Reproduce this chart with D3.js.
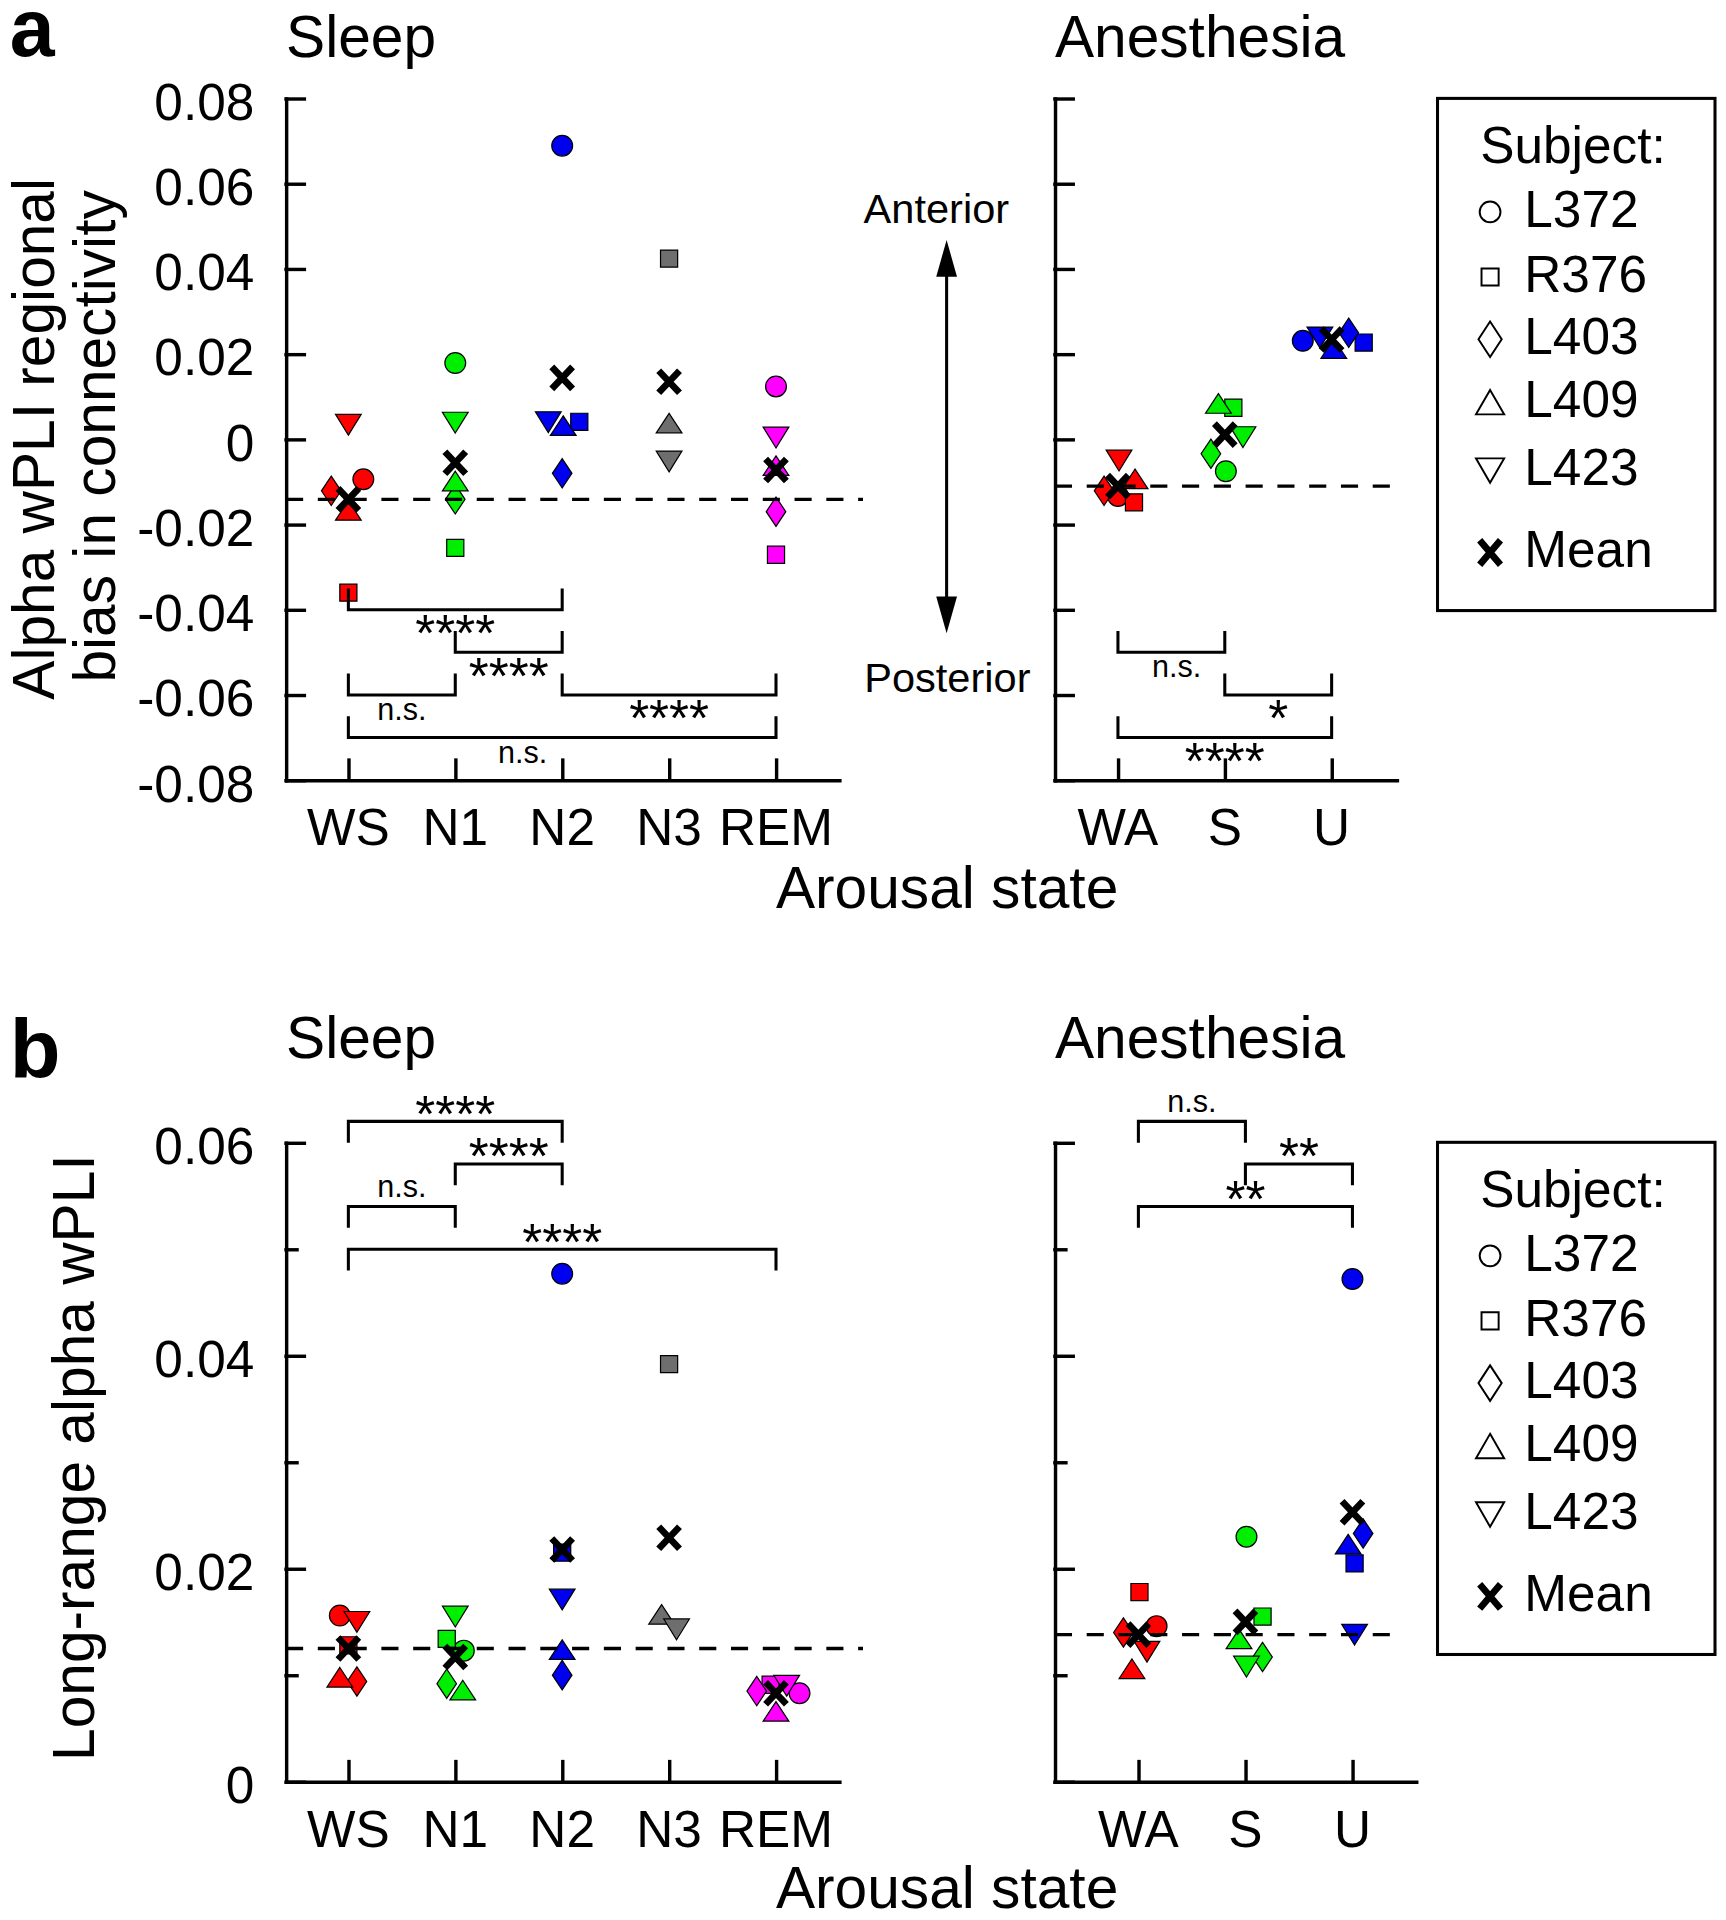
<!DOCTYPE html>
<html>
<head>
<meta charset="utf-8">
<script src="https://cdn.jsdelivr.net/npm/d3@7"></script>
<style>
  body { margin: 0; background: #fff; }
  text { font-family: 'Liberation Sans', Arial, Helvetica, sans-serif; fill: #000; }
</style>
</head>
<body>
<svg id="chart"></svg>
<script>
// ---- data ----
const subjects = ['L372', 'R376', 'L403', 'L409', 'L423']
const subjectShapes = ['circle', 'square', 'diamond', 'triangleUp', 'triangleDown']

const sleepStages = ['WS', 'N1', 'N2', 'N3', 'REM']
const anesthesiaStages = ['WA', 'S', 'U']
const sleepColors = ['#ff0000', '#00ee00', '#0000f0', '#6e6e6e', '#ff00ff']
const anesthesiaColors = ['#ff0000', '#00ee00', '#0000f0']

const biasTicks = [0.08, 0.06, 0.04, 0.02, 0, -0.02, -0.04, -0.06, -0.08]
const biasTickLabels = ['0.08', '0.06', '0.04', '0.02', '0', '-0.02', '-0.04', '-0.06', '-0.08']
const wpliMajorTicks = [0.06, 0.04, 0.02, 0]
const wpliMinorTicks = [0.05, 0.03, 0.01]
const wpliTickLabels = ['0.06', '0.04', '0.02', '0']

// panel a: alpha wPLI regional bias, one row per subject, one column per stage
const biasSleep = [
  [-0.0094, 0.0179, 0.0689, null, 0.0124],
  [-0.0360, -0.0255, 0.0041, 0.0424, -0.0271],
  [-0.0121, -0.0141, -0.0080, null, -0.0170],
  [-0.0167, -0.0098, 0.0032, 0.0038, -0.0062],
  [0.0034, 0.0039, 0.0040, -0.0052, 0.0004]
]
const biasSleepMean = [-0.0141, -0.0055, 0.0144, 0.0135, -0.0072]
const biasAnesthesia = [
  [-0.0133, -0.0075, 0.0231],
  [-0.0148, 0.0074, 0.0227],
  [-0.0121, -0.0034, 0.0250],
  [-0.0093, 0.0084, 0.0213],
  [-0.0050, 0.0005, 0.0239]
]
const biasAnesthesiaMean = [-0.0110, 0.0011, 0.0234]

// panel b: long-range alpha wPLI
const wpliSleep = [
  [0.0156, 0.0123, 0.0477, null, 0.0083],
  [0.0128, 0.0134, 0.0215, 0.0392, 0.0091],
  [0.0094, 0.0092, 0.0100, null, 0.0085],
  [0.0098, 0.0086, 0.0124, 0.0157, 0.0066],
  [0.0150, 0.0155, 0.0171, 0.0143, 0.0090]
]
const wpliSleepMean = [0.0125, 0.0117, 0.0218, 0.0229, 0.0083]
const wpliAnesthesia = [
  [0.0146, 0.0230, 0.0472],
  [0.0178, 0.0155, 0.0205],
  [0.0140, 0.0117, 0.0233],
  [0.0106, 0.0134, 0.0223],
  [0.0122, 0.0108, 0.0138]
]
const wpliAnesthesiaMean = [0.0138, 0.0150, 0.0253]

// horizontal spread of overlapping markers, in category units
const biasSleepJitter = [
  [0.14, 0, 0, 0, 0],
  [0, 0, 0.16, 0, 0],
  [-0.16, 0, 0, 0, 0],
  [0, 0, 0.01, 0, 0],
  [0, 0, -0.13, 0, 0]
]
const biasAnesthesiaJitter = [
  [0, 0.01, -0.27],
  [0.15, 0.08, 0.30],
  [-0.13, -0.13, 0.16],
  [0.16, -0.06, 0.02],
  [0.01, 0.17, -0.11]
]
const wpliSleepJitter = [
  [-0.08, 0.08, 0, 0, 0.22],
  [0, -0.08, 0, 0, -0.05],
  [0.08, -0.08, 0, 0, -0.18],
  [-0.08, 0.07, 0, -0.07, 0],
  [0.08, 0, 0, 0.07, 0.1]
]
const wpliAnesthesiaJitter = [
  [0.17, 0.01, 0],
  [0.01, 0.16, 0.02],
  [-0.14, 0.16, 0.1],
  [-0.06, -0.06, -0.04],
  [0.08, 0.01, 0.02]
]

// significance brackets: [from stage, to stage, level, label, label position]
const biasSleepBrackets = [
  [0, 2, -0.04, '****', 1.0],
  [1, 2, -0.05, '****', 1.5],
  [0, 1, -0.06, 'n.s.', 0.5],
  [2, 4, -0.06, '****', 3.0],
  [0, 4, -0.07, 'n.s.', 1.63]
]
const biasAnesthesiaBrackets = [
  [0, 1, -0.05, 'n.s.', 0.55],
  [1, 2, -0.06, '*', 1.5],
  [0, 2, -0.07, '****', 1.0]
]
const wpliSleepBrackets = [
  [0, 2, 0.062, '****', 1.0],
  [1, 2, 0.058, '****', 1.5],
  [0, 1, 0.054, 'n.s.', 0.5],
  [0, 4, 0.050, '****', 2.0]
]
const wpliAnesthesiaBrackets = [
  [0, 1, 0.062, 'n.s.', 0.5],
  [1, 2, 0.058, '**', 1.5],
  [0, 2, 0.054, '**', 1.0]
]

// ---- drawing ----
const W = 1412, H = 1920 * 1412 / 1726
const svg = d3.select('#chart')
  .attr('width', 1726)
  .attr('height', 1920)
  .attr('viewBox', `0 0 ${W} ${H}`)

const yA = d3.scaleLinear().domain([-0.08, 0.08]).range([638.2, 80.5])
const yB = d3.scaleLinear().domain([0, 0.06]).range([1457.5, 934.8])

const markerSize = { circle: [17, 17], square: [14, 14], diamond: [16, 24], triangleUp: [21, 16], triangleDown: [21, 17] }
const legendSize = { circle: [17, 17], square: [14, 14], diamond: [19, 29], triangleUp: [23, 20], triangleDown: [23, 20] }

function shapePath(shape, [w, h]) {
  const a = w / 2, b = h / 2
  switch (shape) {
    case 'circle': return `M${a},0A${a},${b} 0 1,1 ${-a},0A${a},${b} 0 1,1 ${a},0Z`
    case 'square': return `M${-a},${-b}h${w}v${h}h${-w}Z`
    case 'diamond': return `M0,${-b}L${a},0L0,${b}L${-a},0Z`
    case 'triangleUp': return `M0,${-b}L${a},${b}L${-a},${b}Z`
    case 'triangleDown': return `M0,${b}L${a},${-b}L${-a},${-b}Z`
  }
}
const crossPath = (a, b) => `M${-a},${-b}L${a},${b}M${a},${-b}L${-a},${b}`

function drawPanel(p) {
  const x = d3.scaleLinear().domain(p.xDomain).range([p.x0, p.x1])
  const y = p.y
  const yBottom = y.range()[0]
  const g = svg.append('g')

  // y axis, ticks pointing inward
  const ya = g.append('g').attr('transform', `translate(${p.x0},0)`)
    .call(d3.axisRight(y).tickValues(p.majorTicks).tickSize(15).tickSizeOuter(0).tickFormat(''))
  if (p.minorTicks) {
    ya.call(g2 => g2.append('g')
      .call(d3.axisRight(y).tickValues(p.minorTicks).tickSize(9).tickSizeOuter(0).tickFormat(''))
      .call(s => s.select('.domain').remove()))
  }
  ya.selectAll('path, line').attr('stroke-width', 2.8).attr('stroke-linecap', 'square')

  if (p.tickLabels) {
    g.selectAll('text.ytl').data(p.majorTicks).join('text')
      .attr('class', 'ytl')
      .attr('x', 208)
      .attr('y', d => y(d) + 17.5)
      .attr('text-anchor', 'end')
      .attr('font-size', 42)
      .text((d, i) => p.tickLabels[i])
  }

  // x axis, ticks pointing up
  g.append('g').attr('transform', `translate(0,${yBottom})`)
    .call(d3.axisTop(x).tickValues(d3.range(p.stages.length)).tickSize(16.4).tickSizeOuter(0).tickFormat(''))
    .selectAll('path, line').attr('stroke-width', 2.8).attr('stroke-linecap', 'square')

  g.selectAll('text.xtl').data(p.stages).join('text')
    .attr('class', 'xtl')
    .attr('x', (d, i) => x(i))
    .attr('y', yBottom + 53.1)
    .attr('text-anchor', 'middle')
    .attr('font-size', 42)
    .text(d => d)

  // subject markers
  const pts = []
  p.values.forEach((row, si) => row.forEach((v, ci) => {
    if (v != null) pts.push({ si, ci, v, j: p.jitter[si][ci] })
  }))
  g.selectAll('path.pt').data(pts).join('path')
    .attr('class', 'pt')
    .attr('d', d => shapePath(subjectShapes[d.si], markerSize[subjectShapes[d.si]]))
    .attr('transform', d => `translate(${x(d.ci + d.j)},${y(d.v)})`)
    .attr('fill', d => p.colors[d.ci])
    .attr('stroke', '#000')
    .attr('stroke-width', 1)

  // means
  g.selectAll('path.mean').data(p.means).join('path')
    .attr('class', 'mean')
    .attr('d', crossPath(8.5, 9))
    .attr('transform', (v, i) => `translate(${x(i)},${y(v)})`)
    .attr('fill', 'none')
    .attr('stroke', '#000')
    .attr('stroke-width', 5.5)

  // reference line at the first state's mean
  g.append('line')
    .attr('x1', p.x0).attr('x2', p.dashEnd)
    .attr('y1', y(p.means[0])).attr('y2', y(p.means[0]))
    .attr('stroke', '#000').attr('stroke-width', 2.8)
    .attr('stroke-dasharray', '14,12')

  // significance brackets
  const br = g.selectAll('g.br').data(p.brackets).join('g').attr('class', 'br')
  br.append('path')
    .attr('d', d => {
      const yl = y(d[2]), yt = y(d[2] + p.bracketTip)
      return `M${x(d[0])},${yt}V${yl}H${x(d[1])}V${yt}`
    })
    .attr('fill', 'none').attr('stroke', '#000').attr('stroke-width', 2.5)
  br.append('text')
    .attr('x', d => x(d[4]))
    .attr('y', d => {
      const ns = d[3] === 'n.s.'
      const off = p.bracketTip > 0 ? (ns ? 14 : 15) : (ns ? -14.5 : -10.5)
      const center = y(d[2]) + off
      return ns ? center + 6.5 : center + 19
    })
    .attr('text-anchor', 'middle')
    .attr('font-size', d => d[3] === 'n.s.' ? 25 : 42)
    .text(d => d[3])

  // title
  g.append('text').attr('x', p.x0).attr('y', p.titleY)
    .attr('font-size', 48).text(p.title)
}

drawPanel({ title: 'Sleep', titleY: 46.9, x0: 234, x1: 686.6, xDomain: [-0.583, 4.592], y: yA,
  stages: sleepStages, colors: sleepColors, values: biasSleep, means: biasSleepMean, jitter: biasSleepJitter,
  majorTicks: biasTicks, tickLabels: biasTickLabels, brackets: biasSleepBrackets, bracketTip: 0.005, dashEnd: 706 })
drawPanel({ title: 'Anesthesia', titleY: 46.9, x0: 863, x1: 1142.7, xDomain: [-0.59, 2.61], y: yA,
  stages: anesthesiaStages, colors: anesthesiaColors, values: biasAnesthesia, means: biasAnesthesiaMean, jitter: biasAnesthesiaJitter,
  majorTicks: biasTicks, brackets: biasAnesthesiaBrackets, bracketTip: 0.005, dashEnd: 1142 })
drawPanel({ title: 'Sleep', titleY: 865.5, x0: 234, x1: 686.6, xDomain: [-0.583, 4.592], y: yB,
  stages: sleepStages, colors: sleepColors, values: wpliSleep, means: wpliSleepMean, jitter: wpliSleepJitter,
  majorTicks: wpliMajorTicks, minorTicks: wpliMinorTicks, tickLabels: wpliTickLabels, brackets: wpliSleepBrackets, bracketTip: -0.002, dashEnd: 706 })
drawPanel({ title: 'Anesthesia', titleY: 865.5, x0: 863, x1: 1158.5, xDomain: [-0.78, 2.595], y: yB,
  stages: anesthesiaStages, colors: anesthesiaColors, values: wpliAnesthesia, means: wpliAnesthesiaMean, jitter: wpliAnesthesiaJitter,
  majorTicks: wpliMajorTicks, minorTicks: wpliMinorTicks, brackets: wpliAnesthesiaBrackets, bracketTip: -0.002, dashEnd: 1140 })

// panel letters
svg.append('text').attr('x', 8).attr('y', 46).attr('font-size', 66).attr('font-weight', 'bold').text('a')
svg.append('text').attr('x', 8).attr('y', 882).attr('font-size', 68).attr('font-weight', 'bold').text('b')

// axis titles
svg.append('text').attr('transform', 'translate(44,359) rotate(-90)').attr('text-anchor', 'middle')
  .attr('font-size', 48).text('Alpha wPLI regional')
svg.append('text').attr('transform', 'translate(94,357) rotate(-90)').attr('text-anchor', 'middle')
  .attr('font-size', 48).text('bias in connectivity')
svg.append('text').attr('transform', 'translate(77,1192.5) rotate(-90)').attr('text-anchor', 'middle')
  .attr('font-size', 48).text('Long-range alpha wPLI')
svg.append('text').attr('x', 774.8).attr('y', 743).attr('text-anchor', 'middle').attr('font-size', 48).text('Arousal state')
svg.append('text').attr('x', 774.8).attr('y', 1561).attr('text-anchor', 'middle').attr('font-size', 48).text('Arousal state')

// anterior / posterior arrow
const arrowX = 774.4
svg.append('line').attr('x1', arrowX).attr('x2', arrowX).attr('y1', 215).attr('y2', 500)
  .attr('stroke', '#000').attr('stroke-width', 2.5)
svg.append('path').attr('d', `M${arrowX},196.3L${arrowX + 8.5},226.4L${arrowX - 8.5},226.4Z`).attr('fill', '#000')
svg.append('path').attr('d', `M${arrowX},518L${arrowX + 8.5},488L${arrowX - 8.5},488Z`).attr('fill', '#000')
svg.append('text').attr('x', 766).attr('y', 182.7).attr('text-anchor', 'middle').attr('font-size', 34).text('Anterior')
svg.append('text').attr('x', 775).attr('y', 565.8).attr('text-anchor', 'middle').attr('font-size', 34).text('Posterior')

// legends
const legendRows = [185.4, 238.6, 289.5, 341, 397]
function drawLegend(dy) {
  const g = svg.append('g').attr('transform', `translate(0,${dy})`)
  g.append('rect').attr('x', 1176).attr('y', 80.5).attr('width', 227).attr('height', 419)
    .attr('fill', 'none').attr('stroke', '#000').attr('stroke-width', 2.5)
  g.append('text').attr('x', 1211).attr('y', 133.6).attr('font-size', 42).text('Subject:')
  subjects.forEach((s, i) => {
    g.append('path')
      .attr('d', shapePath(subjectShapes[i], legendSize[subjectShapes[i]]))
      .attr('transform', `translate(1219,${legendRows[i] - 12})`)
      .attr('fill', '#fff').attr('stroke', '#000').attr('stroke-width', 1.6)
    g.append('text').attr('x', 1247).attr('y', legendRows[i]).attr('font-size', 42).text(s)
  })
  g.append('path').attr('d', crossPath(8.5, 10)).attr('transform', 'translate(1219,452)')
    .attr('fill', 'none').attr('stroke', '#000').attr('stroke-width', 5.5)
  g.append('text').attr('x', 1247).attr('y', 464).attr('font-size', 42).text('Mean')
}
drawLegend(0)
drawLegend(854)
</script>
</body>
</html>
